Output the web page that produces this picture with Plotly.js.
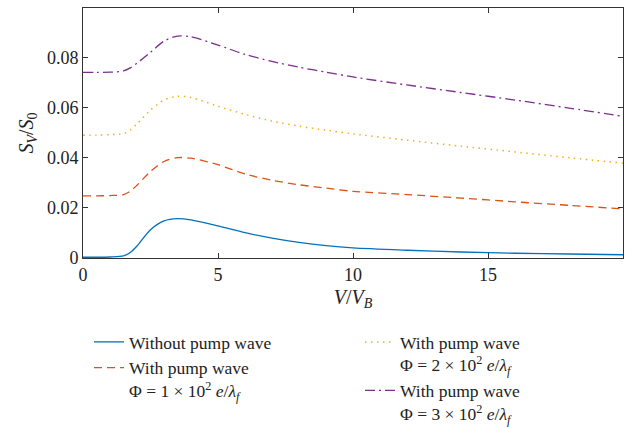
<!DOCTYPE html>
<html>
<head>
<meta charset="utf-8">
<script src="https://cdn.plot.ly/plotly-3.0.1.min.js"></script>
<style>html,body{margin:0;padding:0;background:#fff;}#chart{width:632px;height:428px;}</style>
</head>
<body>
<div id="chart"></div>
<script>
const xVals = [0, 0.5, 1, 1.5, 1.75, 2, 2.5, 3, 3.5, 4, 5, 6, 7, 8, 9, 10, 12, 14, 16, 18, 20];
const withoutPump = [0.0003, 0.0003, 0.0004, 0.0008, 0.0022, 0.0048, 0.0113, 0.0148, 0.0157, 0.0152, 0.0128, 0.0101, 0.0079, 0.0062, 0.0049, 0.0040, 0.0031, 0.0024, 0.0019, 0.0016, 0.0013];
const pumpPhi1 = [0.0248, 0.0248, 0.0249, 0.0253, 0.0266, 0.0290, 0.0345, 0.0385, 0.0400, 0.0398, 0.0372, 0.0335, 0.0310, 0.0292, 0.0279, 0.0266, 0.0253, 0.0239, 0.0224, 0.0210, 0.0196];
const pumpPhi2 = [0.0490, 0.0490, 0.0492, 0.0496, 0.0510, 0.0535, 0.0590, 0.0630, 0.0645, 0.0640, 0.0605, 0.0573, 0.0546, 0.0526, 0.0510, 0.0495, 0.0470, 0.0446, 0.0423, 0.0400, 0.0378];
const pumpPhi3 = [0.0740, 0.0740, 0.0741, 0.0746, 0.0758, 0.0777, 0.0820, 0.0865, 0.0885, 0.0882, 0.0849, 0.0812, 0.0784, 0.0761, 0.0741, 0.0722, 0.0690, 0.0660, 0.0630, 0.0598, 0.0565];
const seriesNames = [
  'Without pump wave',
  'With pump wave<br>Φ = 1 × 10<sup>2</sup> <i>e</i>/<i>λ<sub>f</sub></i>',
  'With pump wave<br>Φ = 2 × 10<sup>2</sup> <i>e</i>/<i>λ<sub>f</sub></i>',
  'With pump wave<br>Φ = 3 × 10<sup>2</sup> <i>e</i>/<i>λ<sub>f</sub></i>'
];
const xTicks = [0, 5, 10, 15];
const yTicks = [0, 0.02, 0.04, 0.06, 0.08];
const yTickText = ['0', '0.02', '0.04', '0.06', '0.08'];

const font = 'Liberation Serif';
const axisColor = '#333';
const textColor = '#222';

const traces = [
  {x: xVals, y: withoutPump, name: seriesNames[0], legend: 'legend', line: {color: '#0072BD', width: 1.3, shape: 'spline', smoothing: 0.8}},
  {x: xVals, y: pumpPhi1, name: seriesNames[1], legend: 'legend', line: {color: '#D95319', width: 1.3, dash: '8px,5px', shape: 'spline', smoothing: 0.8}},
  {x: xVals, y: pumpPhi2, name: seriesNames[2], legend: 'legend2', line: {color: '#EDB120', width: 1.5, dash: '1.5px,4.5px', shape: 'spline', smoothing: 0.8}},
  {x: xVals, y: pumpPhi3, name: seriesNames[3], legend: 'legend2', line: {color: '#7E2F8E', width: 1.3, dash: '10px,4px,2px,4px', shape: 'spline', smoothing: 0.8}}
].map(t => Object.assign({type: 'scatter', mode: 'lines'}, t));

// plot area: x 83..623 px, y 8..258 px
const legendBase = {
  orientation: 'v', yanchor: 'top', xanchor: 'left', valign: 'top',
  bgcolor: 'rgba(0,0,0,0)', borderwidth: 0, tracegroupgap: 0,
  font: {family: font, size: 17.5, color: textColor}
};

const layout = {
  width: 632, height: 428,
  margin: {l: 83, r: 9, t: 8, b: 170, autoexpand: false},
  paper_bgcolor: '#fff', plot_bgcolor: '#fff',
  font: {family: font, size: 18, color: textColor},
  showlegend: true,
  legend: Object.assign({}, legendBase, {x: (89 - 83) / 540, y: (258 - 324) / 250}),
  legend2: Object.assign({}, legendBase, {x: (360 - 83) / 540, y: (258 - 324) / 250}),
  xaxis: {
    range: [0, 20], tickvals: xTicks, ticktext: xTicks.map(String),
    ticks: 'inside', ticklen: 5, tickcolor: axisColor, mirror: 'ticks',
    showline: true, linecolor: axisColor, linewidth: 1, showgrid: false, zeroline: false,
    tickfont: {family: font, size: 18, color: textColor},
    title: {text: '<i>V</i>/<i>V<sub>B</sub></i>', font: {family: font, size: 20, color: textColor}, standoff: 6}
  },
  yaxis: {
    range: [0, 0.0997], tickvals: yTicks, ticktext: yTickText,
    ticks: 'inside', ticklen: 5, tickcolor: axisColor, mirror: 'ticks',
    showline: true, linecolor: axisColor, linewidth: 1, showgrid: false, zeroline: false,
    tickfont: {family: font, size: 18, color: textColor},
    title: {text: '<i>S<sub>V</sub></i>/<i>S</i><sub>0</sub>', font: {family: font, size: 20, color: textColor}}
  }
};

Plotly.newPlot('chart', traces, layout, {displayModeBar: false, staticPlot: true});
</script>
</body>
</html>
